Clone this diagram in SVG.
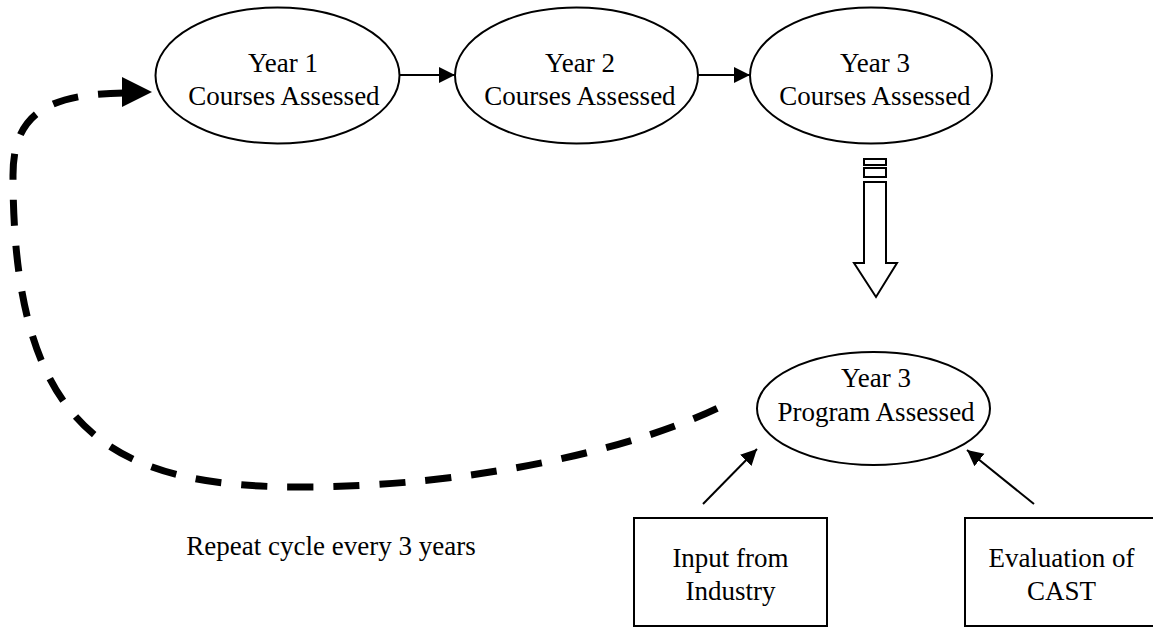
<svg xmlns="http://www.w3.org/2000/svg" width="1153" height="628" viewBox="0 0 1153 628">
  <style>
    .shape { fill: #fff; stroke: #000; stroke-width: 2; }
    .t { font-family: "Liberation Serif", "Times New Roman", serif; font-size: 27px; fill: #000; text-anchor: middle; }
    .line { stroke: #000; stroke-width: 2; fill: none; }
    .dash { stroke: #000; stroke-width: 7; fill: none; stroke-dasharray: 26 20; }
  </style>
  <defs>
    <marker id="ah" markerUnits="userSpaceOnUse" markerWidth="18" markerHeight="18" refX="16" refY="8" orient="auto">
      <path d="M0,0 L16,8 L0,16 Z" fill="#000"/>
    </marker>
  </defs>
  <rect width="1153" height="628" fill="#fff"/>

  <g id="connectors">
    <line class="line" x1="400" y1="75" x2="455" y2="75" marker-end="url(#ah)"/>
    <line class="line" x1="698" y1="75" x2="750" y2="75" marker-end="url(#ah)"/>
    <line class="line" x1="703" y1="504" x2="757" y2="449" marker-end="url(#ah)"/>
    <line class="line" x1="1034" y1="504" x2="967" y2="450" marker-end="url(#ah)"/>
    <g id="hollow-arrow" class="shape">
      <rect x="864" y="159" width="22" height="6"/>
      <rect x="864" y="168" width="22" height="9"/>
      <path d="M864,182 L886,182 L886,263 L897,263 L876,297 L854,263 L864,263 Z"/>
    </g>
    <path class="dash" d="M124,93 C50,94 13,112 13,175 C13,430 110,487 300,487 C470,487 630,450 718,408"/>
    <polygon points="122,77 152,92 122,107" fill="#000"/>
  </g>

  <g id="year1">
    <ellipse class="shape" cx="277.5" cy="75.5" rx="122" ry="68"/>
    <text class="t" x="283" y="72">Year 1</text>
    <text class="t" x="284" y="105">Courses Assessed</text>
  </g>
  <g id="year2">
    <ellipse class="shape" cx="576.5" cy="75.5" rx="121.5" ry="68"/>
    <text class="t" x="580" y="72">Year 2</text>
    <text class="t" x="580" y="105">Courses Assessed</text>
  </g>
  <g id="year3">
    <ellipse class="shape" cx="871" cy="75.5" rx="121" ry="68"/>
    <text class="t" x="875" y="72">Year 3</text>
    <text class="t" x="875" y="105">Courses Assessed</text>
  </g>
  <g id="program">
    <ellipse class="shape" cx="873.5" cy="408.5" rx="116.5" ry="56.5"/>
    <text class="t" x="876" y="387">Year 3</text>
    <text class="t" x="876" y="421">Program Assessed</text>
  </g>
  <g id="industry">
    <rect class="shape" x="634" y="518" width="193" height="108"/>
    <text class="t" x="730.5" y="567">Input from</text>
    <text class="t" x="730.5" y="600">Industry</text>
  </g>
  <g id="cast">
    <rect class="shape" x="965" y="518" width="193" height="108"/>
    <text class="t" x="1061.5" y="567">Evaluation of</text>
    <text class="t" x="1061.5" y="600">CAST</text>
  </g>
  <g id="label">
    <text class="t" x="331" y="555">Repeat cycle every 3 years</text>
  </g>
</svg>
